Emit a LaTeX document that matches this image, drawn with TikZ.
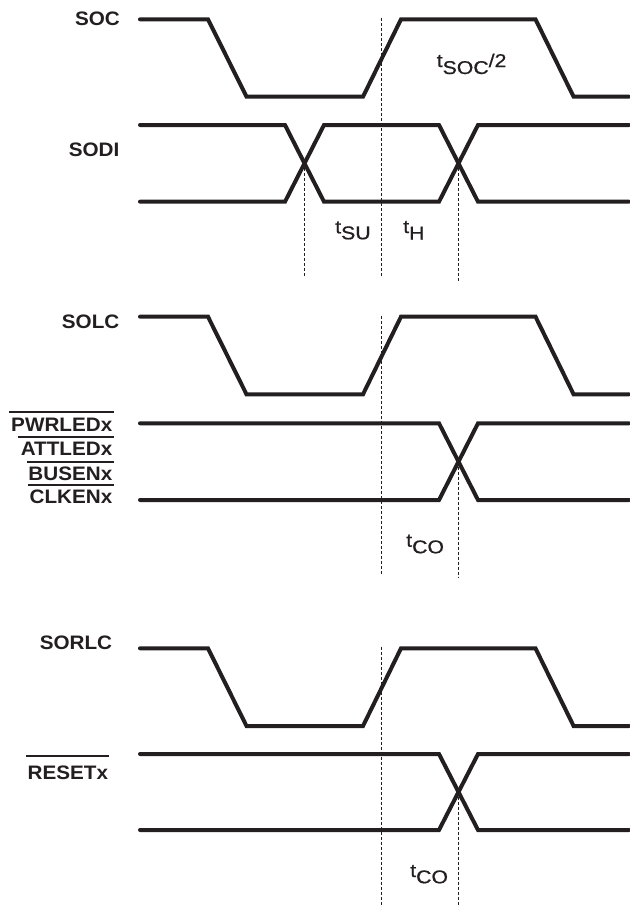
\documentclass[tikz,border=0pt]{standalone}
\usepackage{fontspec}
\setmainfont{Liberation Sans}
\newfontfamily\lblfont{Liberation Sans}[FakeStretch=1.06]
\newfontfamily\tmfont{Liberation Sans}[FakeStretch=1.15, FakeBold=0.8]
\definecolor{ink}{HTML}{231F20}
\begin{document}
\begin{tikzpicture}[x=1pt,y=-1pt,
  wave/.style={line width=4pt, line cap=round, line join=miter, draw=ink},
  guide/.style={line width=1.4pt, dash pattern=on 3pt off 2pt, draw=ink},
  sig/.style={font=\lblfont\bfseries\fontsize{19.5}{21}\selectfont, text=ink, inner sep=0pt, anchor=base east},
  tim/.style={font=\tmfont\fontsize{18.5}{20}\selectfont, text=ink, inner sep=0pt, anchor=base west},
  ovl/.style={line width=2pt, draw=ink}]
\useasboundingbox (0,0) rectangle (629,907);

% ---- signal names
\node[sig] (soc) at (120,25.5) {SOC};
\node[sig] (sodi) at (119.5,156) {SODI};
\node[sig] (solc) at (119.5,328) {SOLC};
\node[sig] (pwr) at (112.5,431.5) {PWRLEDx};
\node[sig] (att) at (112.5,455.7) {ATTLEDx};
\node[sig] (bus) at (112.5,480) {BUSENx};
\node[sig] (clk) at (112.5,503.3) {CLKENx};
\node[sig] (sorlc) at (112.3,649) {SORLC};
\node[sig] (rst) at (108.3,779.5) {RESETx};

% ---- overlines (active-low)
\draw[ovl] ([xshift=-2pt,yshift=20pt]pwr.base west) -- ([xshift=1pt,yshift=20pt]pwr.base east);
\draw[ovl] ([xshift=-3pt,yshift=18.9pt]att.base west) -- ([xshift=1pt,yshift=18.9pt]att.base east);
\draw[ovl] ([xshift=-1pt,yshift=18.5pt]bus.base west) -- ([xshift=1pt,yshift=18.5pt]bus.base east);
\draw[ovl] ([xshift=-1pt,yshift=18.5pt]clk.base west) -- ([xshift=1pt,yshift=18.5pt]clk.base east);
\draw[ovl] ([xshift=-1.3pt,yshift=23.5pt]rst.base west) -- ([xshift=1pt,yshift=23.5pt]rst.base east);

% ---- timing labels
\node[tim] (tsoc) at (436.5,67) {t\raisebox{-7pt}{SOC}/2};
\node[tim] (tsu) at (335,233.3) {t\raisebox{-6pt}{SU}};
\node[tim] (th) at (403,233) {t\raisebox{-6.5pt}{H}};
\node[tim] (tco1) at (406,546.7) {t\raisebox{-6.6pt}{CO}};
\node[tim] (tco2) at (410,877) {t\raisebox{-6.3pt}{CO}};

% ---- clocks
\draw[wave] (140,19.3) -- (208,19.3) -- (246.5,96.7) -- (363,96.7) -- (401,19.3) -- (535.5,19.3) -- (573.6,96.7) -- (629,96.7);
\draw[wave] (140,316.7) -- (208,316.7) -- (246.5,394.3) -- (363,394.3) -- (401,316.7) -- (535.5,316.7) -- (573.6,394.3) -- (629,394.3);
\draw[wave] (140,648.3) -- (208,648.3) -- (246.5,726) -- (363,726) -- (401,648.3) -- (535.5,648.3) -- (573.6,726) -- (629,726);

% ---- SODI data
\draw[wave] (140,125) -- (285,125) -- (324,201.7) -- (439,201.7) -- (478,125) -- (629,125);
\draw[wave] (140,201.7) -- (285,201.7) -- (324,125) -- (439,125) -- (478,201.7) -- (629,201.7);

% ---- outputs
\draw[wave] (140,423.3) -- (439,423.3) -- (478,500) -- (629,500);
\draw[wave] (140,500) -- (439,500) -- (478,423.3) -- (629,423.3);
\draw[wave] (140,754) -- (439,754) -- (478,830) -- (629,830);
\draw[wave] (140,830) -- (439,830) -- (478,754) -- (629,754);

% ---- guide lines
\coordinate (g1a) at (381.5,18);   \coordinate (g1b) at (381.5,277);
\coordinate (g2a) at (304.7,163);  \coordinate (g2b) at (304.7,276);
\coordinate (g3a) at (458.5,163);  \coordinate (g3b) at (458.5,281);
\coordinate (g4a) at (381.5,316);  \coordinate (g4b) at (381.5,575);
\coordinate (g5a) at (458.5,461.7);\coordinate (g5b) at (458.5,578);
\coordinate (g6a) at (381.5,646.7);\coordinate (g6b) at (381.5,907);
\coordinate (g7a) at (458.5,791.7);\coordinate (g7b) at (458.5,907);
\draw[guide] (g1a) -- (g1b);
\draw[guide] (g2a) -- (g2b);
\draw[guide] (g3a) -- (g3b);
\draw[guide] (g4a) -- (g4b);
\draw[guide] (g5a) -- (g5b);
\draw[guide] (g6a) -- (g6b);
\draw[guide] (g7a) -- (g7b);
\end{tikzpicture}
\end{document}
